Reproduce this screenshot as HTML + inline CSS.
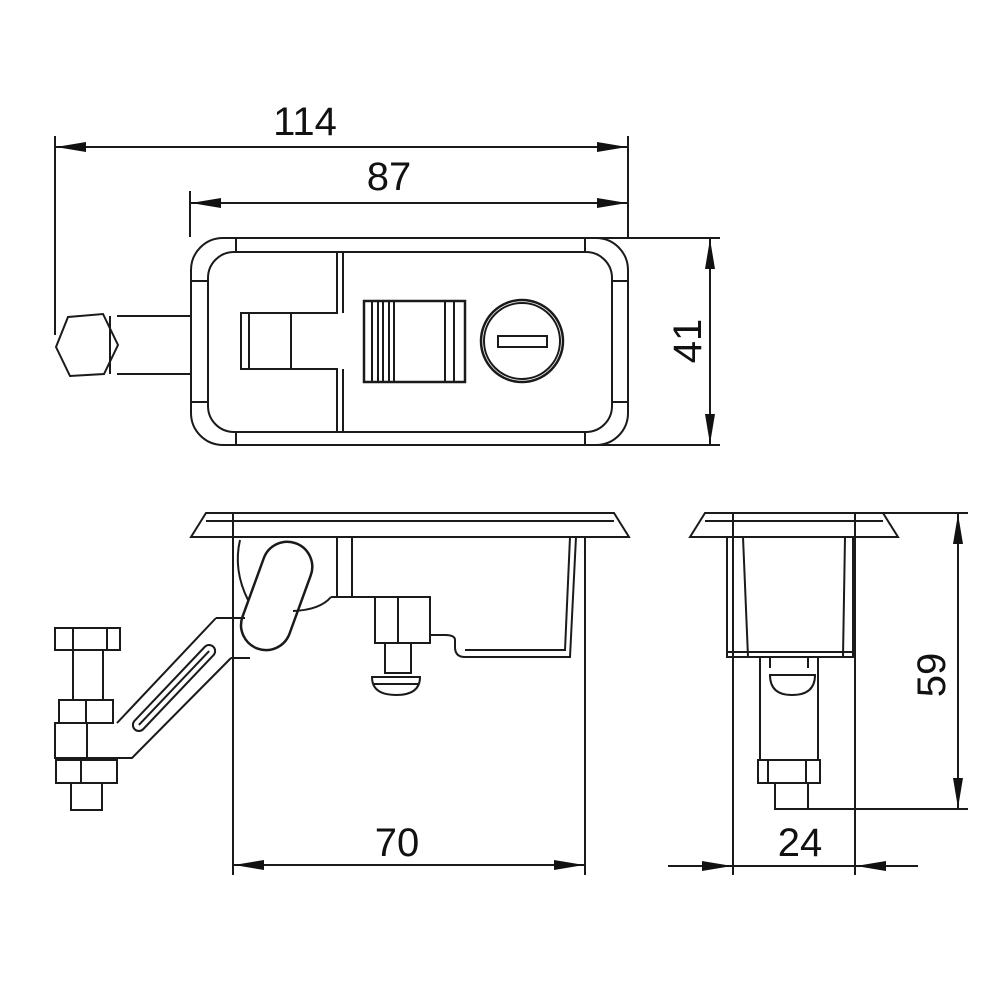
<!DOCTYPE html>
<html><head><style>html,body{margin:0;padding:0;background:#fff}svg{display:block}</style></head>
<body>
<svg width="1000" height="1000" viewBox="0 0 1000 1000" xmlns="http://www.w3.org/2000/svg">
<defs>
<marker id="a" viewBox="0 0 30 10" refX="30" refY="5" markerWidth="30" markerHeight="10" markerUnits="userSpaceOnUse" orient="auto-start-reverse"><path d="M0,0 L30,5 L0,10 Z" fill="#111"/></marker>
</defs>
<g fill="none" stroke="#1a1a1a" stroke-width="2">
<!-- dimensions top -->
<line x1="55" y1="136" x2="55" y2="335"/>
<line x1="628" y1="136" x2="628" y2="237"/>
<line x1="190" y1="191" x2="190" y2="237"/>
<line x1="56" y1="147" x2="627" y2="147" marker-start="url(#a)" marker-end="url(#a)"/>
<line x1="191" y1="203" x2="627" y2="203" marker-start="url(#a)" marker-end="url(#a)"/>
<line x1="595" y1="238" x2="720" y2="238"/>
<line x1="595" y1="445" x2="720" y2="445"/>
<line x1="710" y1="239" x2="710" y2="444" marker-start="url(#a)" marker-end="url(#a)"/>
<!-- top view -->
<rect x="191" y="238" width="437" height="207" rx="32"/>
<rect x="208" y="252" width="404" height="180" rx="26"/>
<line x1="236" y1="238" x2="236" y2="252"/><line x1="585" y1="238" x2="585" y2="252"/>
<line x1="236" y1="432" x2="236" y2="445"/><line x1="585" y1="432" x2="585" y2="445"/>
<line x1="191" y1="281" x2="208" y2="281"/><line x1="191" y1="402" x2="208" y2="402"/>
<line x1="612" y1="281" x2="628" y2="281"/><line x1="612" y1="402" x2="628" y2="402"/>
<path d="M337,252 V313 H241 V369 H337 V432"/>
<path d="M343,252 V313 M343,369 V432"/>
<line x1="249" y1="313" x2="249" y2="369"/>
<line x1="291" y1="313" x2="291" y2="369"/>
<rect x="364" y="301" width="101" height="81" stroke-width="2.5"/>
<path d="M372,301V382M378,301V382M383,301V382M389,301V382M394,301V382M445,301V382M454,301V382"/>
<circle cx="522" cy="341" r="41" stroke-width="2.5"/>
<circle cx="522" cy="341" r="38"/>
<rect x="498" y="336" width="49" height="11"/>
<path d="M117,316 H191 M117,374 H191"/>
<polygon points="68,317 103,314 118,345 104,374 70,376 56,347"/>
<line x1="110" y1="316" x2="110" y2="374"/>
<!-- front view -->
<polygon points="206,513 614,513 629,537 191,537"/>
<line x1="206" y1="521" x2="614" y2="521"/>
<line x1="233" y1="513" x2="233" y2="875"/>
<line x1="585" y1="537" x2="585" y2="875"/>
<path d="M576,537 L570,657 H465 Q455,657 455,647 V640 Q455,635 445,635 H430"/>
<path d="M570,537 L565,650 H465"/>
<path d="M337,537 V597 M352,537 V597"/>
<path d="M331,597 H430"/>
<rect x="375" y="597" width="55" height="46"/>
<line x1="398" y1="597" x2="398" y2="643"/>
<rect x="385" y="643" width="26" height="30"/>
<path d="M372,677 H420 Q420,695 396,695 Q372,695 372,677 Z"/>
<line x1="374" y1="684" x2="418" y2="684"/>
<path d="M293,611 Q320,610 331,597"/>
<path d="M240,540 Q233,570 248,600"/>
<g transform="rotate(20 277 595)"><rect x="252" y="540" width="50" height="112" rx="25" stroke-width="2.5"/></g>
<path d="M216,618 H245 M231,658 H250"/>
<path d="M216,618 L117,723 M231,658 L132,758 H56"/>
<g transform="rotate(-46.5 174 688)"><rect x="117" y="682" width="114" height="12" rx="6"/><line x1="123" y1="688" x2="225" y2="688"/></g>
<rect x="55" y="628" width="65" height="22"/>
<path d="M73,628V650M107,628V650"/>
<rect x="73" y="650" width="30" height="50"/>
<rect x="59" y="700" width="54" height="23"/>
<line x1="86" y1="700" x2="86" y2="723"/>
<rect x="55" y="723" width="32" height="35"/>
<rect x="56" y="760" width="61" height="23"/>
<line x1="81" y1="760" x2="81" y2="783"/>
<rect x="71" y="783" width="31" height="27"/>
<line x1="234" y1="865" x2="584" y2="865" marker-start="url(#a)" marker-end="url(#a)"/>
<!-- side view -->
<polygon points="705,513 883,513 898,537 690,537"/>
<line x1="705" y1="521" x2="883" y2="521"/>
<line x1="733" y1="513" x2="733" y2="875"/>
<line x1="855" y1="513" x2="855" y2="875"/>
<path d="M727,537 V657 H853 V537"/>
<path d="M743,537 L748,657 M845,537 L843,657 M727,652 H853"/>
<rect x="760" y="657" width="58" height="103"/>
<path d="M770,657V668M808,657V668"/>
<path d="M770,675 H815 Q815,695 792,695 Q770,695 770,675Z"/>
<rect x="758" y="760" width="62" height="23"/>
<path d="M768,760V783M806,760V783"/>
<rect x="775" y="783" width="33" height="26"/>
<line x1="883" y1="513" x2="968" y2="513"/>
<line x1="775" y1="809" x2="968" y2="809"/>
<line x1="958" y1="514" x2="958" y2="808" marker-start="url(#a)" marker-end="url(#a)"/>
<line x1="668" y1="866" x2="732" y2="866" marker-end="url(#a)"/>
<line x1="918" y1="866" x2="856" y2="866" marker-end="url(#a)"/>
<line x1="733" y1="866" x2="855" y2="866"/>
</g>
<g font-family="Liberation Sans, sans-serif" font-size="40" fill="#111" text-anchor="middle">
<text x="305" y="135">114</text>
<text x="389" y="190">87</text>
<text x="397" y="856">70</text>
<text x="800" y="856">24</text>
<text transform="translate(701,341) rotate(-90)">41</text>
<text transform="translate(945,675) rotate(-90)">59</text>
</g>
</svg>
</body></html>
